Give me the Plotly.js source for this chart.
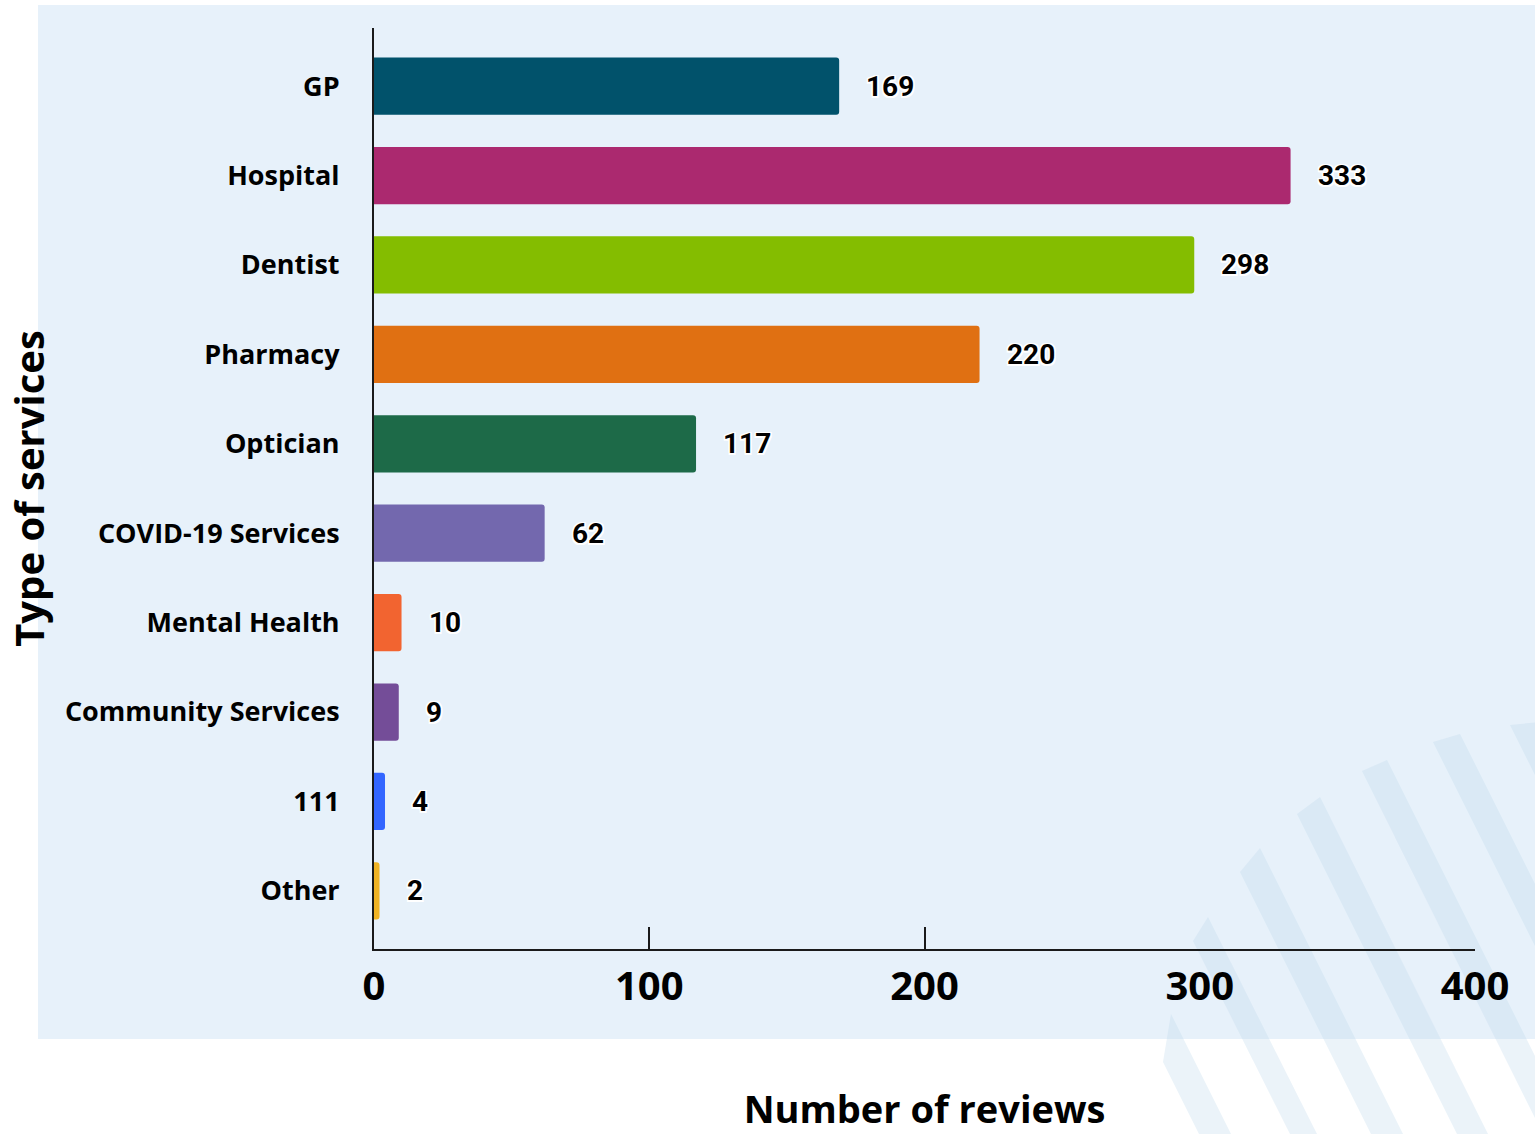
<!DOCTYPE html>
<html>
<head>
<meta charset="utf-8">
<script src="https://cdn.plot.ly/plotly-3.0.1.min.js"></script>
<style>
  html, body { margin: 0; padding: 0; background: #ffffff; }
  #chart { width: 1535px; height: 1134px; }
</style>
</head>
<body>
<div id="chart"></div>
<script>
// ---- Data ----
const categories = ["GP", "Hospital", "Dentist", "Pharmacy", "Optician", "COVID-19 Services", "Mental Health", "Community Services", "111", "Other"];
const reviewCounts = [169, 333, 298, 220, 117, 62, 10, 9, 4, 2];
const barColors = ["#01526B", "#AB296F", "#84BD00", "#E07012", "#1D6A48", "#7368AE", "#F26430", "#744D98", "#3366FF", "#F0B323"];
const xTickValues = [0, 100, 200, 300, 400];
const xTickMarks = [100, 200];
const xTitle = "Number of reviews";
const yTitle = "Type of services";

// ---- Layout geometry ----
const W = 1535, H = 1134;
const M = { l: 374, r: 60, t: 28, b: 185 };
const PW = W - M.l - M.r, PH = H - M.t - M.b;
const px = x => (x - M.l) / PW;
const py = y => (H - M.b - y) / PH;

const mainFont = "Open Sans, Noto Sans, DejaVu Sans, sans-serif";
const labelFont = "Liberation Sans Narrow, Roboto, Liberation Sans, sans-serif";

// decorative background panel + diagonal stripes (page decoration)
const stripePolys = [
  [[1163,1062],[1171,1014],[1231,1134],[1199,1134]],
  [[1193,941],[1208,917],[1317,1134],[1290,1134]],
  [[1240,872],[1260,848],[1403,1134],[1371,1134]],
  [[1297,814],[1320,797],[1488,1134],[1457,1134]],
  [[1362,771],[1387,760],[1574,1134],[1543,1134]],
  [[1433,742],[1460,734],[1660,1134],[1629,1134]],
  [[1510,725],[1540,722],[1746,1134],[1715,1134]]
];
const shapes = [{
  type: "rect", xref: "paper", yref: "paper", layer: "below",
  x0: px(38), x1: px(1545), y0: py(1039), y1: py(5),
  fillcolor: "#E7F1FA", line: { width: 0 }
}];
stripePolys.forEach(poly => {
  const d = poly.map((p, i) => (i === 0 ? "M" : "L") + px(p[0]).toFixed(5) + "," + py(p[1]).toFixed(5)).join(" ") + " Z";
  shapes.push({ type: "path", xref: "paper", yref: "paper", layer: "below", path: d,
    fillcolor: "rgba(190,215,235,0.3)", line: { width: 0 } });
});

const halo = "-1.5px -1.5px 0 #fff, 1.5px -1.5px 0 #fff, -1.5px 1.5px 0 #fff, 1.5px 1.5px 0 #fff, 0 1.5px 0 #fff, 0 -1.5px 0 #fff, 1.5px 0 0 #fff, -1.5px 0 0 #fff";

// value labels; y given as category index so "111" is not read as a number
const annotations = reviewCounts.map((v, i) => ({
  x: v, y: i, xref: "x", yref: "y",
  text: String(v), showarrow: false, xanchor: "left", yanchor: "middle", xshift: 25,
  font: { family: labelFont, size: 28, color: "#000", weight: "bold", shadow: halo }
}));

const trace = {
  type: "bar", orientation: "h",
  x: reviewCounts, y: categories,
  marker: { color: barColors, line: { width: 0 } },
  hoverinfo: "x+y"
};
const tickTrace = {
  type: "scatter", mode: "markers", x: [], y: [], xaxis: "x2", yaxis: "y",
  showlegend: false, hoverinfo: "skip"
};

const layout = {
  width: W, height: H,
  margin: M,
  paper_bgcolor: "#ffffff",
  plot_bgcolor: "rgba(0,0,0,0)",
  showlegend: false,
  bargap: 0.36,
  barcornerradius: 3,
  font: { family: mainFont, color: "#000" },
  xaxis: {
    range: [0, 400], tickvals: xTickValues, ticks: "", showgrid: false, zeroline: false,
    showline: true, linecolor: "#1a1a1a", linewidth: 2,
    tickfont: { family: mainFont, size: 40, weight: "bold", color: "#000" },
    ticklabelstandoff: 1,
    title: { text: xTitle, font: { family: mainFont, size: 38, weight: "bold", color: "#000" }, standoff: 90 },
    fixedrange: true
  },
  xaxis2: {
    overlaying: "x", anchor: "y", side: "bottom", range: [0, 400],
    tickvals: xTickMarks, ticks: "inside", ticklen: 22, tickwidth: 2, tickcolor: "#1a1a1a",
    showticklabels: false, showgrid: false, zeroline: false, showline: false
  },
  yaxis: {
    type: "category", range: [categories.length - 1 + 0.65, -0.65],
    ticks: "", showgrid: false, zeroline: false,
    showline: true, linecolor: "#1a1a1a", linewidth: 2,
    tickfont: { family: mainFont, size: 27, weight: "bold", color: "#000" },
    ticklabelstandoff: 27,
    title: { text: yTitle, font: { family: mainFont, size: 40, weight: "bold", color: "#000" }, standoff: 8 },
    fixedrange: true
  },
  shapes: shapes,
  annotations: annotations
};

Plotly.newPlot("chart", [trace, tickTrace], layout, { displayModeBar: false, staticPlot: true });
</script>
</body>
</html>
